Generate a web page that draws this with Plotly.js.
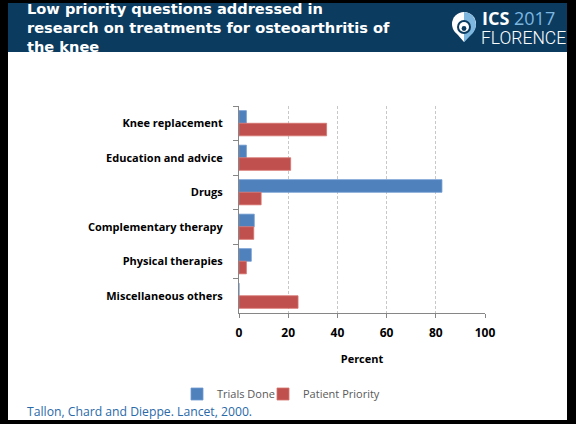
<!DOCTYPE html>
<html>
<head>
<meta charset="utf-8">
<script src="https://cdn.plot.ly/plotly-3.0.1.min.js"></script>
<style>html,body{margin:0;padding:0;background:#fff;}#chart{width:576px;height:424px;}</style>
</head>
<body>
<div id="chart"></div>
<script>
// ---- Data ----
const categories = ["Knee replacement", "Education and advice", "Drugs", "Complementary therapy", "Physical therapies", "Miscellaneous others"];
const trialsDone = [3, 3, 82.5, 6.2, 5, 0];
const patientPriority = [35.6, 21, 9, 6, 3, 24];
const seriesNames = ["Trials Done", "Patient Priority"];
const xTickValues = [0, 20, 40, 60, 80, 100];
const slideTitle = "Low priority questions addressed in<br>research on treatments for osteoarthritis of<br>the knee";
const citation = "Tallon, Chard and Dieppe. Lancet, 2000.";
const xTitle = "Percent";

// ---- Layout helpers (pixel -> paper) ----
const W = 576, H = 424;
const L = 239, R = 485, T = 106, B = 313;
const fx = px => (px - L) / (R - L);
const fy = py => (B - py) / (B - T);

const blue = "#4f81bd", red = "#c0504d";
const header = "#0b3c60";

const traces = [
  {type: "bar", orientation: "h", name: seriesNames[0], y: categories, x: trialsDone,
   legend: "legend",
   marker: {color: blue, line: {color: "#6f9bd1", width: 0.8}}},
  {type: "bar", orientation: "h", name: seriesNames[1], y: categories, x: patientPriority,
   legend: "legend2",
   marker: {color: red, line: {color: "#d6736f", width: 0.8}}}
];

function circle(cx, cy, r, fill, line) {
  return {type: "circle", xref: "paper", yref: "paper",
    x0: fx(cx - r), x1: fx(cx + r), y0: fy(cy + r), y1: fy(cy - r),
    fillcolor: fill, line: line || {width: 0}, layer: "above"};
}
function rect(x0, y0, x1, y1, fill) {
  return {type: "rect", xref: "paper", yref: "paper",
    x0: fx(x0), x1: fx(x1), y0: fy(y1), y1: fy(y0),
    fillcolor: fill, line: {width: 0}, layer: "below"};
}
function path(points, fill) {
  let d = points.map((p, i) => (i ? "L" : "M") + fx(p[0]) + "," + fy(p[1])).join(" ") + " Z";
  return {type: "path", xref: "paper", yref: "paper", path: d, fillcolor: fill, line: {width: 0}, layer: "above"};
}

// logo geometry
const lcx = 464, lcy = 24, lr = 12;
const shapes = [
  rect(0, 0, W, 3, "#000"),
  rect(0, 0, 8, H, "#000"),
  rect(567, 0, W, H, "#000"),
  rect(0, 420, W, H, "#000"),
  rect(8, 3, 567, 52, header),
  // logo teardrop
  circle(lcx, lcy, lr, "#ffffff"),
  path([[lcx - 10, lcy + 6.5], [lcx, lcy + 18], [lcx + 10, lcy + 6.5]], "#ffffff"),
  path([[lcx, lcy - 12], [lcx + 4.5, lcy - 11], [lcx + 8.5, lcy - 8.5], [lcx + 11.2, lcy - 4], [lcx + 12, lcy + 1], [lcx + 11, lcy + 5.5], [lcx + 9, lcy + 9], [lcx, lcy + 18]], "#7db7e0"),
  circle(lcx, lcy + 3, 7, header),
  circle(lcx, lcy + 3, 5, "#ffffff"),
  circle(lcx, lcy + 4.5, 2.4, header)
];

const annotations = [
  {xref: "paper", yref: "paper", x: fx(25), y: fy(27), xanchor: "left", yanchor: "middle",
   text: "<b>" + slideTitle + "</b>", align: "left", showarrow: false,
   font: {family: "DejaVu Sans", size: 14.6, color: "#ffffff"}},
  {xref: "paper", yref: "paper", x: fx(480), y: fy(18), xanchor: "left", yanchor: "middle",
   text: "<b>ICS</b><span style='color:#7db7e0'> 2017</span>", showarrow: false,
   font: {family: "Open Sans", size: 18, color: "#ffffff"}},
  {xref: "paper", yref: "paper", x: fx(479), y: fy(38), xanchor: "left", yanchor: "middle",
   text: "FLORENCE", showarrow: false,
   font: {family: "Roboto", size: 17.5, color: "#ffffff", weight: 300}},
  {xref: "paper", yref: "paper", x: fx(25), y: fy(411), xanchor: "left", yanchor: "middle",
   text: citation, showarrow: false,
   font: {family: "Open Sans", size: 12.2, color: "#2a69a8"}}
];

const legendFont = {family: "Open Sans", size: 11, color: "#595959"};
const layout = {
  width: W, height: H,
  margin: {l: L, r: W - R, t: T, b: H - B, pad: 0},
  paper_bgcolor: "#ffffff", plot_bgcolor: "#ffffff",
  barmode: "group", bargap: 0.27, bargroupgap: 0,
  showlegend: true,
  legend: {orientation: "h", x: fx(177), y: fy(394), xanchor: "left", yanchor: "middle",
    font: legendFont, itemwidth: 30, bgcolor: "rgba(0,0,0,0)"},
  legend2: {orientation: "h", x: fx(263), y: fy(394), xanchor: "left", yanchor: "middle",
    font: legendFont, itemwidth: 30, bgcolor: "rgba(0,0,0,0)"},
  xaxis: {range: [0, 100], tickvals: xTickValues, showgrid: true, gridcolor: "#c8c8c8",
    griddash: "3px,2px", gridwidth: 1, zeroline: false, showline: true, linecolor: "#868686",
    ticks: "outside", ticklen: 4, tickcolor: "#868686",
    tickfont: {family: "Open Sans", size: 12, color: "#000", weight: "bold"},
    ticklabelstandoff: 5,
    title: {text: "<b>" + xTitle + "</b>", font: {family: "Open Sans", size: 11, color: "#000"}, standoff: 14},
    fixedrange: true},
  yaxis: {type: "category", autorange: "reversed", showline: true, linecolor: "#868686",
    ticks: "outside", ticklen: 5, tickcolor: "#868686", tickson: "boundaries",
    showgrid: false, zeroline: false,
    tickfont: {family: "Open Sans", size: 11, color: "#000", weight: "bold"},
    ticklabelstandoff: 13, fixedrange: true},
  shapes: shapes,
  annotations: annotations,
  font: {family: "Open Sans"}
};

Plotly.newPlot("chart", traces, layout, {displayModeBar: false, staticPlot: true});
</script>
</body>
</html>
